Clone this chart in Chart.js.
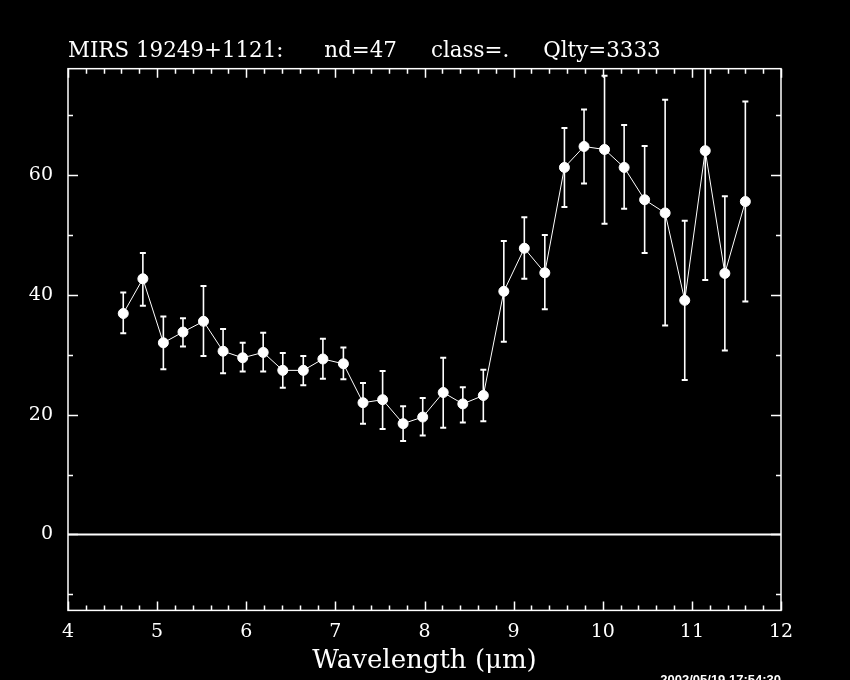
<!DOCTYPE html>
<html>
<head>
<meta charset="utf-8">
<title>MIRS 19249+1121</title>
<script src="https://cdn.jsdelivr.net/npm/chart.js@4.4.1/dist/chart.umd.min.js"></script>
<style>
  html, body { margin: 0; padding: 0; background: #000; }
  #wrap { width: 850px; height: 680px; }
</style>
</head>
<body>
<div id="wrap"><canvas id="myChart" width="850" height="680"></canvas></div>
<script>
// spectrum values
const wavelength = [4.62, 4.84, 5.07, 5.29, 5.52, 5.74, 5.96, 6.19, 6.41, 6.64, 6.86, 7.09, 7.31, 7.53, 7.76, 7.98,
    8.21, 8.43, 8.66, 8.89, 9.12, 9.35, 9.57, 9.79, 10.02, 10.24, 10.47, 10.70, 10.92, 11.15, 11.37, 11.60];
const flux = [36.9, 42.7, 32.0, 33.8, 35.6, 30.6, 29.5, 30.4, 27.4, 27.4, 29.3, 28.5, 22.0, 22.5, 18.5, 19.6,
    23.7, 21.8, 23.2, 40.6, 47.8, 43.7, 61.3, 64.8, 64.3, 61.3, 55.9, 53.7, 39.1, 64.1, 43.6, 55.6];
const fluxHigh = [40.4, 47.0, 36.4, 36.1, 41.5, 34.3, 32.0, 33.7, 30.3, 29.8, 32.7, 31.2, 25.3, 27.3, 21.4, 22.8,
    29.5, 24.6, 27.5, 49.0, 53.0, 50.0, 67.9, 71.0, 76.6, 68.4, 64.9, 72.6, 52.4, 85.7, 56.5, 72.3];
const fluxLow = [33.6, 38.2, 27.6, 31.4, 29.8, 26.9, 27.2, 27.2, 24.5, 24.9, 26.0, 25.9, 18.5, 17.6, 15.6, 16.5,
    17.8, 18.7, 18.9, 32.2, 42.7, 37.6, 54.7, 58.6, 51.9, 54.4, 47.0, 34.9, 25.8, 42.5, 30.7, 38.9];

const xTicks = [4, 5, 6, 7, 8, 9, 10, 11, 12];
const yTicks = [0, 20, 40, 60];
const xRange = [4, 12];
const yRange = [-12.7, 77.8];

const titleText = "MIRS 19249+1121:      nd=47     class=.     Qlty=3333";
const xLabel = "Wavelength (\u03bcm)";
const stampText = "2002/05/19 17:54:30";

Chart.defaults.color = '#fff';
Chart.defaults.font.family = "'DejaVu Serif', serif";

// one small line per point for the error bars, caps drawn with the 'line' point style
const errorSets = wavelength.map((w, i) => ({
    data: [{x: w, y: fluxLow[i]}, {x: w, y: fluxHigh[i]}],
    showLine: true,
    borderColor: '#fff',
    borderWidth: 1.6,
    pointStyle: 'line',
    pointRadius: 3,
    pointBorderWidth: 2,
    pointBorderColor: '#fff',
    order: 1
}));

const spectrumSet = {
    data: wavelength.map((w, i) => ({x: w, y: flux[i]})),
    showLine: true,
    borderColor: '#fff',
    borderWidth: 1,
    pointRadius: 5,
    pointBackgroundColor: '#fff',
    pointBorderColor: '#fff',
    order: 0
};

const zeroSet = {
    data: [{x: xRange[0], y: 0}, {x: xRange[1], y: 0}],
    showLine: true,
    borderColor: '#fff',
    borderWidth: 2,
    pointRadius: 0,
    order: 2
};

// frame plus inward tick marks on all four sides
const framePlugin = {
    id: 'frame',
    afterDraw(chart) {
        const ctx = chart.ctx;
        const a = chart.chartArea;
        const sx = chart.scales.x;
        const sy = chart.scales.y;
        ctx.save();
        ctx.strokeStyle = '#fff';
        ctx.lineWidth = 1.5;
        ctx.strokeRect(a.left, a.top, a.right - a.left, a.bottom - a.top);

        ctx.beginPath();
        for (let k = 0; k <= 40; k++) {
            const v = xRange[0] + k * 0.2;
            const px = Math.round(sx.getPixelForValue(v)) + 0.5;
            const len = k % 5 === 0 ? 9 : 5;
            ctx.moveTo(px, a.bottom);
            ctx.lineTo(px, a.bottom - len);
            ctx.moveTo(px, a.top);
            ctx.lineTo(px, a.top + len);
        }
        for (let v = -10; v <= 70; v += 10) {
            const py = Math.round(sy.getPixelForValue(v)) + 0.5;
            const len = v % 20 === 0 ? 10 : 5;
            ctx.moveTo(a.left, py);
            ctx.lineTo(a.left + len, py);
            ctx.moveTo(a.right, py);
            ctx.lineTo(a.right - len, py);
        }
        ctx.stroke();
        ctx.restore();
    }
};

const bgPlugin = {
    id: 'bg',
    beforeDraw(chart) {
        const ctx = chart.ctx;
        ctx.save();
        ctx.fillStyle = '#000';
        ctx.fillRect(0, 0, chart.width, chart.height);
        ctx.restore();
    }
};

const myChart = new Chart(document.getElementById('myChart').getContext('2d'), {
    type: 'scatter',
    data: {
        datasets: [spectrumSet].concat(errorSets, [zeroSet])
    },
    options: {
        responsive: false,
        animation: false,
        layout: {padding: {left: 0, right: 69, top: 0, bottom: -10}},
        plugins: {
            legend: {display: false},
            tooltip: {enabled: false},
            title: {
                display: true,
                text: titleText,
                align: 'start',
                fullSize: false,
                color: '#fff',
                font: {size: 21.4, weight: 'normal', family: "'DejaVu Serif', serif"},
                padding: {top: 39, bottom: 4}
            },
            subtitle: {
                display: true,
                text: stampText,
                position: 'bottom',
                align: 'end',
                fullSize: false,
                color: '#fff',
                font: {size: 13, weight: 'bold', family: "'Liberation Sans', sans-serif"},
                padding: {top: -2, bottom: 2}
            }
        },
        scales: {
            x: {
                type: 'linear',
                min: xRange[0],
                max: xRange[1],
                grid: {display: false},
                border: {display: false},
                afterBuildTicks: s => { s.ticks = xTicks.map(v => ({value: v})); },
                afterFit: s => { s.height = 64; },
                ticks: {
                    color: '#fff',
                    padding: 2,
                    maxRotation: 0,
                    font: {size: 19}
                },
                title: {
                    display: true,
                    text: xLabel,
                    color: '#fff',
                    font: {size: 26},
                    padding: {top: 0, bottom: -2}
                }
            },
            y: {
                type: 'linear',
                min: yRange[0],
                max: yRange[1],
                grid: {display: false},
                border: {display: false},
                afterBuildTicks: s => { s.ticks = yTicks.map(v => ({value: v})); },
                afterFit: s => { s.width = 68; },
                ticks: {
                    color: '#fff',
                    padding: 7,
                    font: {size: 19}
                }
            }
        }
    },
    plugins: [bgPlugin, framePlugin]
});
</script>
</body>
</html>
